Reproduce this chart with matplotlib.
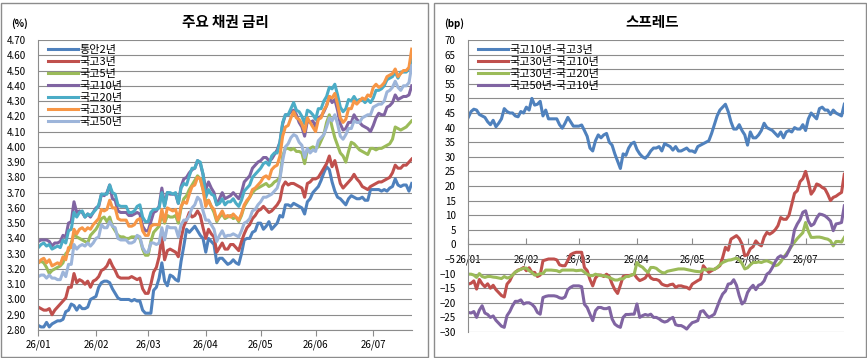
import numpy as np
import matplotlib
matplotlib.use("Agg")
import matplotlib.pyplot as plt
from matplotlib.patches import Rectangle
from matplotlib.ticker import MultipleLocator, FormatStrFormatter

plt.rcParams['font.family'] = ['Noto Sans CJK KR', 'DejaVu Sans']

# 거래일 기준 (26/01 ~ 26/07 중순)
month_pos = [0, 21, 40, 61, 81, 101, 122]
month_labels = ["26/01", "26/02", "26/03", "26/04", "26/05", "26/06", "26/07"]

# 주요 채권 금리 (%)
t2 = [2.83, 2.82, 2.82, 2.85, 2.82, 2.84, 2.85, 2.86, 2.86, 2.87,
      2.92, 2.93, 2.97, 2.96, 2.93, 2.96, 2.94, 2.94, 2.95, 3.00,
      3.01, 3.02, 3.08, 3.11, 3.12, 3.12, 3.11, 3.07, 3.04, 3.01,
      3.00, 3.00, 3.00, 3.00, 2.99, 3.00, 2.99, 2.99, 2.93, 2.91,
      2.91, 2.91, 3.06, 3.08, 3.14, 3.24, 3.12, 3.09, 3.16, 3.15,
      3.13, 3.12, 3.25, 3.35, 3.46, 3.44, 3.46, 3.48, 3.45, 3.42,
      3.40, 3.31, 3.40, 3.38, 3.36, 3.24, 3.27, 3.27, 3.25, 3.23,
      3.24, 3.26, 3.24, 3.23, 3.30, 3.39, 3.40, 3.40, 3.44, 3.45,
      3.50, 3.50, 3.46, 3.48, 3.51, 3.46, 3.48, 3.50, 3.55, 3.54,
      3.62, 3.62, 3.61, 3.63, 3.62, 3.61, 3.60, 3.56, 3.64, 3.66,
      3.70, 3.72, 3.74, 3.78, 3.83, 3.87, 3.85, 3.77, 3.71, 3.67,
      3.66, 3.64, 3.62, 3.66, 3.68, 3.67, 3.66, 3.66, 3.67, 3.65,
      3.65, 3.72, 3.72, 3.72, 3.72, 3.71, 3.72, 3.71, 3.73, 3.74,
      3.79, 3.75, 3.74, 3.75, 3.75, 3.71, 3.76]
k3 = [2.95, 2.94, 2.93, 2.93, 2.94, 2.90, 2.93, 2.95, 2.97, 2.99,
      3.01, 3.08, 3.08, 3.17, 3.11, 3.13, 3.12, 3.10, 3.12, 3.08,
      3.12, 3.13, 3.15, 3.19, 3.20, 3.22, 3.26, 3.22, 3.19, 3.15,
      3.14, 3.14, 3.14, 3.14, 3.15, 3.14, 3.13, 3.14, 3.07, 3.04,
      3.04, 3.10, 3.18, 3.21, 3.28, 3.41, 3.26, 3.32, 3.33, 3.32,
      3.31, 3.28, 3.40, 3.48, 3.52, 3.57, 3.54, 3.55, 3.58, 3.55,
      3.47, 3.40, 3.46, 3.43, 3.41, 3.31, 3.34, 3.37, 3.33, 3.33,
      3.36, 3.36, 3.34, 3.32, 3.38, 3.43, 3.47, 3.49, 3.53, 3.55,
      3.58, 3.59, 3.61, 3.59, 3.57, 3.58, 3.60, 3.62, 3.65, 3.74,
      3.77, 3.75, 3.76, 3.76, 3.75, 3.74, 3.73, 3.67, 3.76, 3.77,
      3.79, 3.79, 3.80, 3.83, 3.86, 3.89, 3.94, 3.87, 3.91, 3.84,
      3.76, 3.73, 3.75, 3.77, 3.79, 3.82, 3.79, 3.77, 3.74, 3.73,
      3.72, 3.74, 3.75, 3.76, 3.77, 3.77, 3.78, 3.79, 3.80, 3.83,
      3.88, 3.86, 3.86, 3.88, 3.88, 3.90, 3.92]
k5 = [3.24, 3.25, 3.24, 3.21, 3.17, 3.19, 3.20, 3.21, 3.22, 3.24,
      3.30, 3.32, 3.37, 3.43, 3.41, 3.40, 3.39, 3.38, 3.37, 3.42,
      3.44, 3.46, 3.49, 3.53, 3.54, 3.51, 3.54, 3.48, 3.45, 3.42,
      3.41, 3.41, 3.40, 3.40, 3.41, 3.41, 3.41, 3.40, 3.33, 3.29,
      3.29, 3.38, 3.44, 3.46, 3.48, 3.56, 3.50, 3.55, 3.54, 3.54,
      3.55, 3.50, 3.60, 3.66, 3.68, 3.72, 3.75, 3.78, 3.81, 3.79,
      3.72, 3.64, 3.65, 3.61, 3.57, 3.51, 3.54, 3.56, 3.53, 3.54,
      3.55, 3.53, 3.54, 3.51, 3.55, 3.61, 3.64, 3.67, 3.70, 3.72,
      3.73, 3.74, 3.75, 3.76, 3.74, 3.75, 3.77, 3.78, 3.80, 3.94,
      3.99, 3.99, 3.98, 3.99, 3.97, 3.97, 3.96, 3.89, 3.98, 3.99,
      4.00, 3.99, 4.00, 4.04, 4.08, 4.16, 4.21, 4.13, 4.06, 4.01,
      3.96, 3.94, 3.90, 3.97, 4.03, 4.02, 4.00, 3.98, 3.97, 3.96,
      3.95, 3.99, 3.99, 3.98, 3.99, 3.99, 4.00, 4.01, 4.02, 4.05,
      4.13, 4.12, 4.11, 4.12, 4.13, 4.15, 4.17]
k10 = [3.38, 3.39, 3.39, 3.39, 3.38, 3.35, 3.37, 3.37, 3.38, 3.42,
       3.41, 3.50, 3.51, 3.64, 3.57, 3.58, 3.57, 3.54, 3.56, 3.54,
       3.57, 3.60, 3.61, 3.69, 3.68, 3.70, 3.75, 3.66, 3.65, 3.58,
       3.57, 3.57, 3.57, 3.55, 3.55, 3.56, 3.57, 3.56, 3.48, 3.45,
       3.45, 3.51, 3.57, 3.58, 3.61, 3.73, 3.62, 3.70, 3.69, 3.69,
       3.69, 3.63, 3.74, 3.79, 3.80, 3.83, 3.85, 3.86, 3.91, 3.89,
       3.82, 3.72, 3.77, 3.73, 3.70, 3.62, 3.66, 3.70, 3.66, 3.67,
       3.68, 3.70, 3.68, 3.66, 3.70, 3.77, 3.79, 3.81, 3.86, 3.88,
       3.90, 3.91, 3.93, 3.93, 3.91, 3.92, 3.95, 3.98, 4.03, 4.15,
       4.21, 4.21, 4.23, 4.24, 4.21, 4.16, 4.13, 4.07, 4.17, 4.16,
       4.17, 4.13, 4.19, 4.20, 4.23, 4.27, 4.33, 4.29, 4.31, 4.24,
       4.15, 4.11, 4.12, 4.16, 4.16, 4.21, 4.18, 4.16, 4.14, 4.13,
       4.12, 4.10, 4.14, 4.19, 4.22, 4.21, 4.21, 4.26, 4.27, 4.29,
       4.34, 4.31, 4.32, 4.33, 4.33, 4.34, 4.40]
k20 = [3.34, 3.36, 3.37, 3.35, 3.36, 3.33, 3.34, 3.35, 3.34, 3.39,
       3.37, 3.45, 3.46, 3.57, 3.54, 3.57, 3.58, 3.54, 3.56, 3.55,
       3.57, 3.59, 3.62, 3.69, 3.69, 3.69, 3.75, 3.70, 3.69, 3.62,
       3.61, 3.61, 3.61, 3.57, 3.57, 3.58, 3.61, 3.62, 3.54, 3.51,
       3.51, 3.57, 3.59, 3.59, 3.60, 3.70, 3.61, 3.70, 3.70, 3.69,
       3.70, 3.63, 3.73, 3.76, 3.75, 3.81, 3.86, 3.86, 3.91, 3.90,
       3.82, 3.67, 3.72, 3.69, 3.68, 3.62, 3.63, 3.66, 3.62, 3.64,
       3.64, 3.66, 3.63, 3.61, 3.65, 3.71, 3.73, 3.75, 3.80, 3.82,
       3.84, 3.86, 3.89, 3.90, 3.88, 3.94, 3.96, 3.96, 4.03, 4.16,
       4.21, 4.21, 4.25, 4.29, 4.24, 4.23, 4.20, 4.15, 4.24, 4.23,
       4.21, 4.18, 4.25, 4.25, 4.30, 4.33, 4.39, 4.38, 4.41, 4.34,
       4.26, 4.23, 4.25, 4.31, 4.30, 4.33, 4.30, 4.31, 4.31, 4.29,
       4.31, 4.29, 4.32, 4.37, 4.37, 4.38, 4.40, 4.44, 4.45, 4.46,
       4.49, 4.45, 4.49, 4.49, 4.49, 4.51, 4.58]
k30 = [3.24, 3.26, 3.27, 3.24, 3.26, 3.22, 3.23, 3.24, 3.23, 3.28,
       3.26, 3.34, 3.34, 3.46, 3.43, 3.46, 3.47, 3.45, 3.47, 3.46,
       3.49, 3.51, 3.53, 3.59, 3.58, 3.59, 3.65, 3.60, 3.60, 3.53,
       3.52, 3.52, 3.52, 3.48, 3.48, 3.49, 3.52, 3.53, 3.45, 3.42,
       3.42, 3.48, 3.49, 3.49, 3.49, 3.59, 3.51, 3.60, 3.59, 3.58,
       3.59, 3.52, 3.61, 3.64, 3.63, 3.69, 3.74, 3.75, 3.80, 3.79,
       3.72, 3.61, 3.65, 3.61, 3.59, 3.52, 3.55, 3.58, 3.54, 3.55,
       3.54, 3.56, 3.54, 3.52, 3.56, 3.62, 3.65, 3.67, 3.72, 3.73,
       3.75, 3.77, 3.80, 3.81, 3.79, 3.85, 3.87, 3.88, 3.94, 4.07,
       4.13, 4.14, 4.19, 4.23, 4.19, 4.18, 4.15, 4.10, 4.19, 4.16,
       4.13, 4.10, 4.18, 4.19, 4.24, 4.27, 4.33, 4.32, 4.35, 4.28,
       4.19, 4.16, 4.18, 4.25, 4.25, 4.30, 4.28, 4.30, 4.32, 4.31,
       4.34, 4.33, 4.39, 4.41, 4.39, 4.40, 4.42, 4.46, 4.47, 4.48,
       4.51, 4.46, 4.48, 4.50, 4.50, 4.52, 4.64]
k50 = [3.15, 3.16, 3.16, 3.14, 3.16, 3.14, 3.14, 3.13, 3.13, 3.18,
       3.15, 3.23, 3.23, 3.36, 3.33, 3.35, 3.36, 3.35, 3.37, 3.35,
       3.37, 3.40, 3.41, 3.49, 3.47, 3.47, 3.51, 3.48, 3.47, 3.40,
       3.39, 3.39, 3.39, 3.37, 3.37, 3.38, 3.42, 3.41, 3.34, 3.31,
       3.31, 3.37, 3.37, 3.36, 3.37, 3.47, 3.39, 3.48, 3.47, 3.47,
       3.47, 3.41, 3.49, 3.52, 3.52, 3.55, 3.60, 3.62, 3.67, 3.65,
       3.58, 3.52, 3.52, 3.49, 3.46, 3.38, 3.42, 3.45, 3.41, 3.42,
       3.42, 3.43, 3.42, 3.41, 3.45, 3.50, 3.51, 3.53, 3.58, 3.59,
       3.62, 3.64, 3.67, 3.67, 3.68, 3.69, 3.71, 3.73, 3.79, 3.91,
       4.00, 4.02, 4.06, 4.08, 4.07, 4.03, 4.01, 3.93, 3.99, 3.96,
       3.98, 3.97, 4.04, 4.06, 4.08, 4.13, 4.19, 4.17, 4.21, 4.15,
       4.07, 4.05, 4.08, 4.12, 4.12, 4.17, 4.16, 4.16, 4.19, 4.20,
       4.21, 4.21, 4.26, 4.27, 4.28, 4.28, 4.30, 4.36, 4.37, 4.39,
       4.43, 4.39, 4.37, 4.40, 4.40, 4.42, 4.53]

# 스프레드 (bp)
s10_3 = [43.5, 45.5, 46.3, 46.0, 44.5, 44.0, 43.5, 42.0, 41.0, 42.5,
         40.3, 41.5, 43.0, 46.5, 45.5, 45.0, 45.0, 44.0, 43.7, 45.5,
         45.0, 47.0, 46.0, 50.0, 47.7, 48.0, 49.0, 44.0, 46.0, 43.0,
         43.0, 43.0, 43.0, 41.0, 39.8, 41.5, 43.5, 42.0, 40.5, 40.5,
         40.5, 40.9, 39.0, 37.0, 33.0, 32.0, 35.5, 37.5, 36.5, 37.5,
         38.0, 35.0, 34.0, 31.0, 28.5, 26.0, 31.0, 30.5, 33.0, 34.5,
         35.0, 32.5, 31.0, 30.0, 29.5, 30.5, 32.0, 33.0, 33.0, 33.5,
         32.0, 34.5, 34.0, 33.5, 32.3, 33.5, 32.0, 32.0, 32.5, 33.0,
         32.0, 32.0, 31.5, 33.5, 34.0, 34.5, 35.0, 35.5, 38.0, 41.0,
         44.0, 46.0, 47.0, 48.0, 45.5, 42.0, 39.5, 39.5, 41.0, 39.0,
         37.5, 34.0, 38.5, 36.5, 36.5, 37.5, 39.0, 41.5, 40.0, 39.5,
         39.0, 38.0, 37.0, 38.5, 36.5, 38.5, 39.0, 38.5, 40.0, 39.5,
         39.5, 41.0, 39.0, 43.0, 45.0, 44.0, 43.0, 46.5, 47.0, 46.0,
         46.0, 44.5, 46.0, 45.0, 44.5, 44.0, 48.0]
s30_10 = [-13.6, -13.3, -12.5, -15.3, -12.0, -13.5, -14.5, -13.5, -15.0, -14.0,
          -15.5, -16.5, -17.5, -18.0, -13.6, -12.5, -10.5, -9.5, -8.8, -8.5,
          -7.9, -9.0, -8.0, -9.6, -9.6, -11.0, -10.5, -5.6, -5.3, -5.0,
          -5.0, -5.0, -5.3, -7.0, -7.3, -7.3, -5.5, -3.5, -3.0, -2.7,
          -2.7, -2.7, -7.9, -9.0, -12.0, -14.2, -11.5, -10.5, -10.5, -11.0,
          -10.2, -11.0, -13.5, -15.5, -16.8, -14.0, -11.0, -10.7, -10.7, -10.5,
          -10.2, -11.5, -12.4, -12.0, -11.5, -10.0, -11.5, -12.0, -12.0, -12.4,
          -13.6, -14.0, -14.2, -13.8, -13.6, -14.7, -14.2, -14.2, -14.5, -14.7,
          -15.3, -13.6, -13.0, -12.4, -11.9, -7.3, -8.5, -9.6, -9.0, -8.5,
          -8.0, -7.3, -4.5, -1.0, -2.0, 1.8, 2.4, 3.0, 2.0, 0.1,
          -3.9, -3.5, -1.5, -0.8, 1.2, 0.1, -0.5, 2.5, 4.1, 3.5,
          4.1, 5.0, 6.4, 9.2, 8.6, 8.6, 10.0, 13.8, 17.5, 18.4,
          21.5, 22.5, 25.0, 21.5, 17.2, 18.5, 20.7, 20.3, 19.5, 19.0,
          17.2, 15.0, 16.1, 16.5, 17.2, 17.8, 24.0]
s30_20 = [-10.2, -10.2, -10.5, -11.3, -10.0, -11.0, -11.3, -11.0, -11.0, -11.2,
          -11.3, -11.5, -11.7, -11.0, -11.5, -11.3, -10.5, -9.5, -9.0, -8.5,
          -8.2, -8.1, -9.0, -9.6, -10.5, -10.4, -10.0, -10.0, -8.8, -8.8,
          -8.8, -8.9, -9.0, -9.4, -8.8, -8.8, -8.8, -8.8, -8.8, -9.0,
          -8.9, -8.8, -9.5, -10.2, -10.7, -10.7, -10.2, -10.5, -10.7, -10.7,
          -11.0, -11.3, -11.8, -12.2, -12.2, -11.8, -11.8, -11.0, -11.0, -10.5,
          -10.2, -6.2, -7.3, -7.8, -8.8, -9.6, -7.9, -7.9, -8.2, -9.0,
          -9.6, -9.8, -9.2, -9.0, -8.8, -8.6, -8.4, -8.4, -8.4, -8.6,
          -8.8, -9.0, -9.2, -9.3, -9.4, -8.5, -8.8, -8.4, -8.5, -8.6,
          -7.9, -7.0, -6.2, -5.8, -5.4, -5.3, -5.0, -4.7, -5.3, -6.5,
          -8.4, -8.0, -7.0, -6.2, -6.2, -6.0, -6.2, -5.8, -5.6, -6.0,
          -6.5, -7.3, -7.0, -6.0, -4.5, -3.3, -2.0, -0.5, 0.8, 2.0,
          3.0, 4.0, 7.5, 4.5, 2.4, 2.4, 2.5, 2.5, 2.3, 2.0,
          1.8, 1.2, -0.5, 1.0, 1.0, 0.8, 2.4]
s50_10 = [-23.3, -23.5, -23.0, -25.0, -22.5, -21.0, -23.5, -24.0, -25.0, -24.5,
          -26.0, -27.0, -28.0, -28.4, -24.4, -23.0, -21.0, -19.5, -19.5, -19.0,
          -20.4, -20.0, -20.0, -20.5, -21.5, -23.3, -23.9, -18.2, -17.8, -17.6,
          -17.6, -17.6, -17.8, -18.3, -18.5, -18.0, -15.5, -14.7, -14.2, -14.2,
          -14.2, -14.5, -20.5, -21.6, -23.9, -26.1, -22.7, -21.6, -21.6, -22.0,
          -22.0, -21.6, -25.5, -27.3, -28.0, -28.4, -25.0, -24.0, -24.0, -23.9,
          -23.9, -20.4, -25.0, -24.4, -24.0, -24.3, -23.9, -25.0, -25.0, -25.5,
          -26.2, -26.6, -26.3, -25.5, -25.0, -27.5, -27.8, -27.8, -28.3, -29.0,
          -27.8, -26.8, -26.5, -26.1, -23.0, -22.7, -24.0, -25.0, -24.5, -23.9,
          -21.5, -19.0, -17.0, -16.0, -13.6, -13.4, -12.1, -14.0, -17.6, -20.4,
          -19.5, -16.5, -15.0, -14.0, -15.5, -14.0, -13.6, -12.5, -10.2, -9.5,
          -7.9, -6.0, -4.5, -3.9, -4.5, -3.9, -2.0, 0.0, 5.0, 7.0,
          8.5, 11.0, 11.5, 8.0, 6.4, 7.0, 9.0, 10.4, 10.2, 9.8,
          9.0, 8.0, 4.7, 7.0, 7.2, 7.5, 13.2]

rate_series = [("통안2년", t2, "#4F81BD"), ("국고3년", k3, "#C0504D"),
               ("국고5년", k5, "#9BBB59"), ("국고10년", k10, "#8064A2"),
               ("국고20년", k20, "#4BACC6"), ("국고30년", k30, "#F79646"),
               ("국고50년", k50, "#9DB5DA")]
spread_series = [("국고10년-국고3년", s10_3, "#4F81BD"),
                 ("국고30년-국고10년", s30_10, "#C0504D"),
                 ("국고30년-국고20년", s30_20, "#9BBB59"),
                 ("국고50년-국고10년", s50_10, "#8064A2")]

W, H = 867, 358
fig = plt.figure(figsize=(W / 100, H / 100), dpi=100)
grid_c = "#8C8C8C"

# 테두리
fig.patches.append(Rectangle((0.5 / W, 1.5 / H), 427 / W, 354 / H, transform=fig.transFigure,
                             fill=False, ec="#8C8C8C", lw=1))
fig.patches.append(Rectangle((433.5 / W, 1.5 / H), 432 / W, 354 / H, transform=fig.transFigure,
                             fill=False, ec="#8C8C8C", lw=1))

ax1 = fig.add_axes([38.3 / W, 28 / H, 373.4 / W, 290 / H])
ax2 = fig.add_axes([468.3 / W, 26 / H, 376 / W, 292 / H])

for name, vals, col in rate_series:
    ax1.plot(range(len(vals)), vals, color=col, lw=2.2, label=name, solid_joinstyle="round")
for name, vals, col in spread_series:
    ax2.plot(range(len(vals)), vals, color=col, lw=2.2, label=name, solid_joinstyle="round")

ax1.set_ylim(2.80, 4.70)
ax1.yaxis.set_major_locator(MultipleLocator(0.1))
ax1.yaxis.set_major_formatter(FormatStrFormatter("%.2f"))
ax2.set_ylim(-30, 70)
ax2.yaxis.set_major_locator(MultipleLocator(5))
ax2.spines["bottom"].set_position(("data", 0))

for ax in (ax1, ax2):
    ax.set_xlim(0, 136)
    ax.set_xticks(month_pos)
    ax.set_xticklabels(month_labels)
    ax.yaxis.grid(True, color=grid_c, lw=0.8)
    ax.set_axisbelow(True)
    for s in ("top", "right"):
        ax.spines[s].set_visible(False)
    for s in ("left", "bottom"):
        ax.spines[s].set_color(grid_c)
        ax.spines[s].set_linewidth(0.8)
    ax.tick_params(axis="y", length=0, pad=9, labelsize=7)
    ax.legend(loc="upper left", bbox_to_anchor=(0.026, 0.982), frameon=False,
              fontsize=8, handlelength=2.7, handletextpad=0.15, labelspacing=0.18,
              borderpad=0, borderaxespad=0)

ax1.tick_params(axis="x", direction="out", length=4, color=grid_c, pad=3, labelsize=7)
ax2.tick_params(axis="x", direction="in", length=4, color=grid_c, pad=7, labelsize=7)

fig.text(225 / W, 1 - 22 / H, "주요 채권 금리", ha="center", va="center",
         fontsize=10.5, fontweight="bold")
fig.text(652 / W, 1 - 22 / H, "스프레드", ha="center", va="center",
         fontsize=10.5, fontweight="bold")
fig.text(20 / W, 1 - 24 / H, "(%)", ha="center", va="center", fontsize=7, fontweight="bold")
fig.text(454 / W, 1 - 24 / H, "(bp)", ha="center", va="center", fontsize=7, fontweight="bold")

fig.savefig("out.png", dpi=100)
